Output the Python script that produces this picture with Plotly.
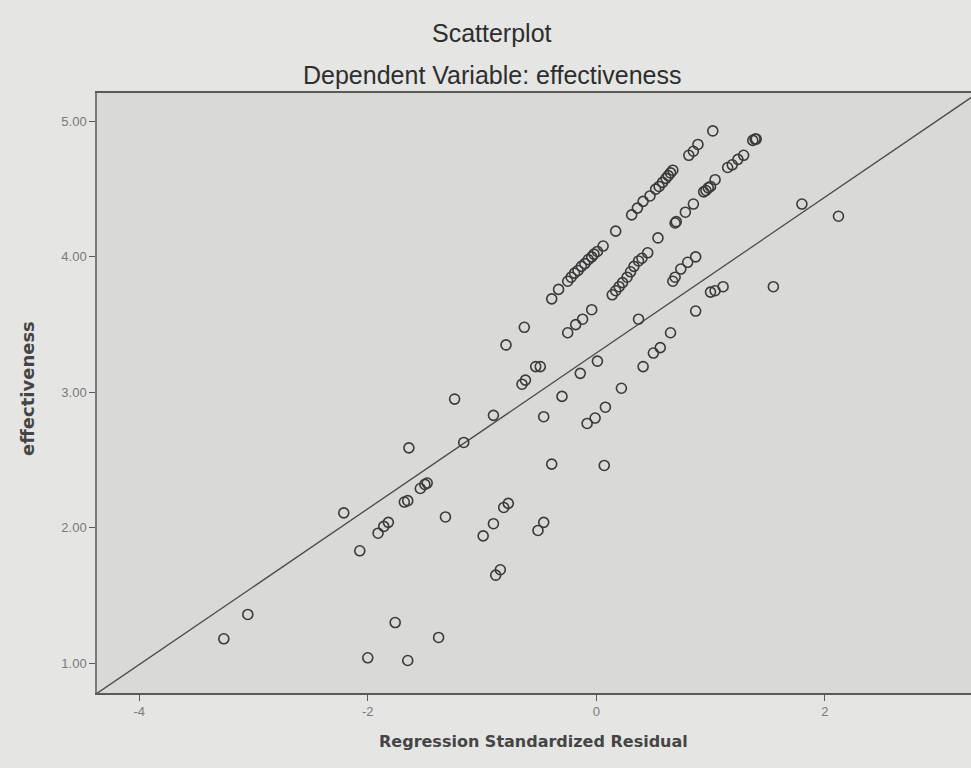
import plotly.graph_objects as go

# Regression standardized residual (x) and effectiveness (y)
residual = [
    -3.26, -3.05, -1.76, -2.00, -1.65, -1.38,
    -2.21, -2.07, -1.91, -1.86, -1.82,
    -1.68, -1.65,
    -1.54, -1.50, -1.48,
    -1.32,
    -0.99, -0.90, -0.81, -0.77,
    -0.88, -0.84,
    -0.51, -0.46,
    -1.64, -1.16, -1.24, -0.90,
    -0.39, 0.07,
    -0.46, -0.30, -0.14, 0.01,
    -0.08, -0.01, 0.08,
    0.22, 0.41, 0.50, 0.56, 0.65,
    -0.65, -0.62,
    -0.53, -0.49,
    -0.79, -0.63,
    -0.25, -0.18, -0.12, -0.04,
    0.37, 0.87,
    1.00, 1.04, 1.11, 1.55,
    0.67, 0.69, 0.74, 0.80, 0.87,
    0.14, 0.17, 0.20, 0.23, 0.27, 0.30, 0.33, 0.37, 0.40, 0.45,
    0.54,
    -0.39, -0.33, -0.25, -0.22, -0.19, -0.16, -0.13, -0.10, -0.07, -0.04, -0.02, 0.01, 0.06,
    0.17,
    0.31, 0.36, 0.41, 0.47,
    0.52, 0.55, 0.58, 0.61, 0.63, 0.65, 0.67,
    0.69, 0.70, 0.78, 0.85,
    0.94, 0.96, 0.98, 1.00, 1.04,
    1.15, 1.19, 1.24, 1.29,
    1.37, 1.39, 1.40,
    0.81, 0.85, 0.89,
    1.02,
    1.80, 2.12,
]
effectiveness = [
    1.18, 1.36, 1.30, 1.04, 1.02, 1.19,
    2.11, 1.83, 1.96, 2.01, 2.04,
    2.19, 2.20,
    2.29, 2.32, 2.33,
    2.08,
    1.94, 2.03, 2.15, 2.18,
    1.65, 1.69,
    1.98, 2.04,
    2.59, 2.63, 2.95, 2.83,
    2.47, 2.46,
    2.82, 2.97, 3.14, 3.23,
    2.77, 2.81, 2.89,
    3.03, 3.19, 3.29, 3.33, 3.44,
    3.06, 3.09,
    3.19, 3.19,
    3.35, 3.48,
    3.44, 3.50, 3.54, 3.61,
    3.54, 3.60,
    3.74, 3.75, 3.78, 3.78,
    3.82, 3.85, 3.91, 3.96, 4.00,
    3.72, 3.75, 3.78, 3.81, 3.85, 3.89, 3.93, 3.97, 3.99, 4.03,
    4.14,
    3.69, 3.76, 3.82, 3.85, 3.88, 3.90, 3.93, 3.95, 3.98, 4.00, 4.02, 4.04, 4.08,
    4.19,
    4.31, 4.36, 4.41, 4.45,
    4.50, 4.52, 4.55, 4.58, 4.60, 4.62, 4.64,
    4.25, 4.26, 4.33, 4.39,
    4.48, 4.49, 4.51, 4.52, 4.57,
    4.66, 4.68, 4.72, 4.75,
    4.86, 4.87, 4.87,
    4.75, 4.78, 4.83,
    4.93,
    4.39, 4.30,
]

# Fit line (intercept, slope) and axis setup
fit_intercept = 3.29
fit_slope = 0.575
x_range = [-4.37, 3.28]
y_range = [0.78, 5.21]
x_ticks = [-4, -2, 0, 2]
y_ticks = [1.0, 2.0, 3.0, 4.0, 5.0]

line_x = x_range
line_y = [fit_intercept + fit_slope * v for v in line_x]

fig = go.Figure()
fig.add_trace(go.Scatter(
    x=line_x, y=line_y, mode="lines",
    line=dict(color="#4a4a4a", width=1.3),
    hoverinfo="skip", showlegend=False,
))
fig.add_trace(go.Scatter(
    x=residual, y=effectiveness, mode="markers",
    marker=dict(symbol="circle-open", size=10, color="#3a3a3a",
                line=dict(width=1.6, color="#3a3a3a")),
    showlegend=False,
))

axis_font = dict(family="Liberation Sans, Arial, sans-serif", size=13, color="#7a7a7a")
title_font = dict(family="Liberation Sans, Arial, sans-serif", size=25, color="#2e2e2e")
label_font = dict(family="DejaVu Sans, sans-serif", size=16, color="#454545")
ylabel_font = dict(family="DejaVu Sans, sans-serif", size=18, color="#454545")
fig.update_layout(
    width=971, height=768,
    margin=dict(l=97, r=0, t=93, b=75),
    paper_bgcolor="#e5e5e3",
    plot_bgcolor="#d9d9d7",
    xaxis=dict(range=x_range, tickvals=x_ticks, ticktext=[str(t) for t in x_ticks],
               showgrid=False, zeroline=False, showline=True, linecolor="#5a5a5a",
               linewidth=1.5, mirror=True, ticks="outside", ticklen=6, tickwidth=1.2,
               tickcolor="#5a5a5a", tickfont=axis_font),
    yaxis=dict(range=y_range, tickvals=y_ticks, tickformat=".2f",
               showgrid=False, zeroline=False, showline=True, linecolor="#7a7a7a",
               linewidth=1.5, ticks="outside", ticklen=6, tickwidth=1.2,
               tickcolor="#5a5a5a", tickfont=axis_font),
    annotations=[
        dict(text="Scatterplot", xref="paper", yref="paper",
             x=(492 - 97) / 874, y=1 + (93 - 33) / 600, xanchor="center", yanchor="middle",
             showarrow=False, font=title_font),
        dict(text="Dependent Variable: effectiveness", xref="paper", yref="paper",
             x=(492 - 97) / 874, y=1 + (93 - 75) / 600, xanchor="center", yanchor="middle",
             showarrow=False, font=title_font),
        dict(text="<b>Regression Standardized Residual</b>", xref="paper", yref="paper",
             x=(533 - 97) / 874, y=-(742 - 693) / 600, xanchor="center", yanchor="middle",
             showarrow=False, font=label_font),
        dict(text="<b>effectiveness</b>", xref="paper", yref="paper",
             x=-(97 - 27) / 874, y=(693 - 389) / 600, xanchor="center", yanchor="middle",
             textangle=-90, showarrow=False, font=ylabel_font),
    ],
)

fig.write_html("out.html")
